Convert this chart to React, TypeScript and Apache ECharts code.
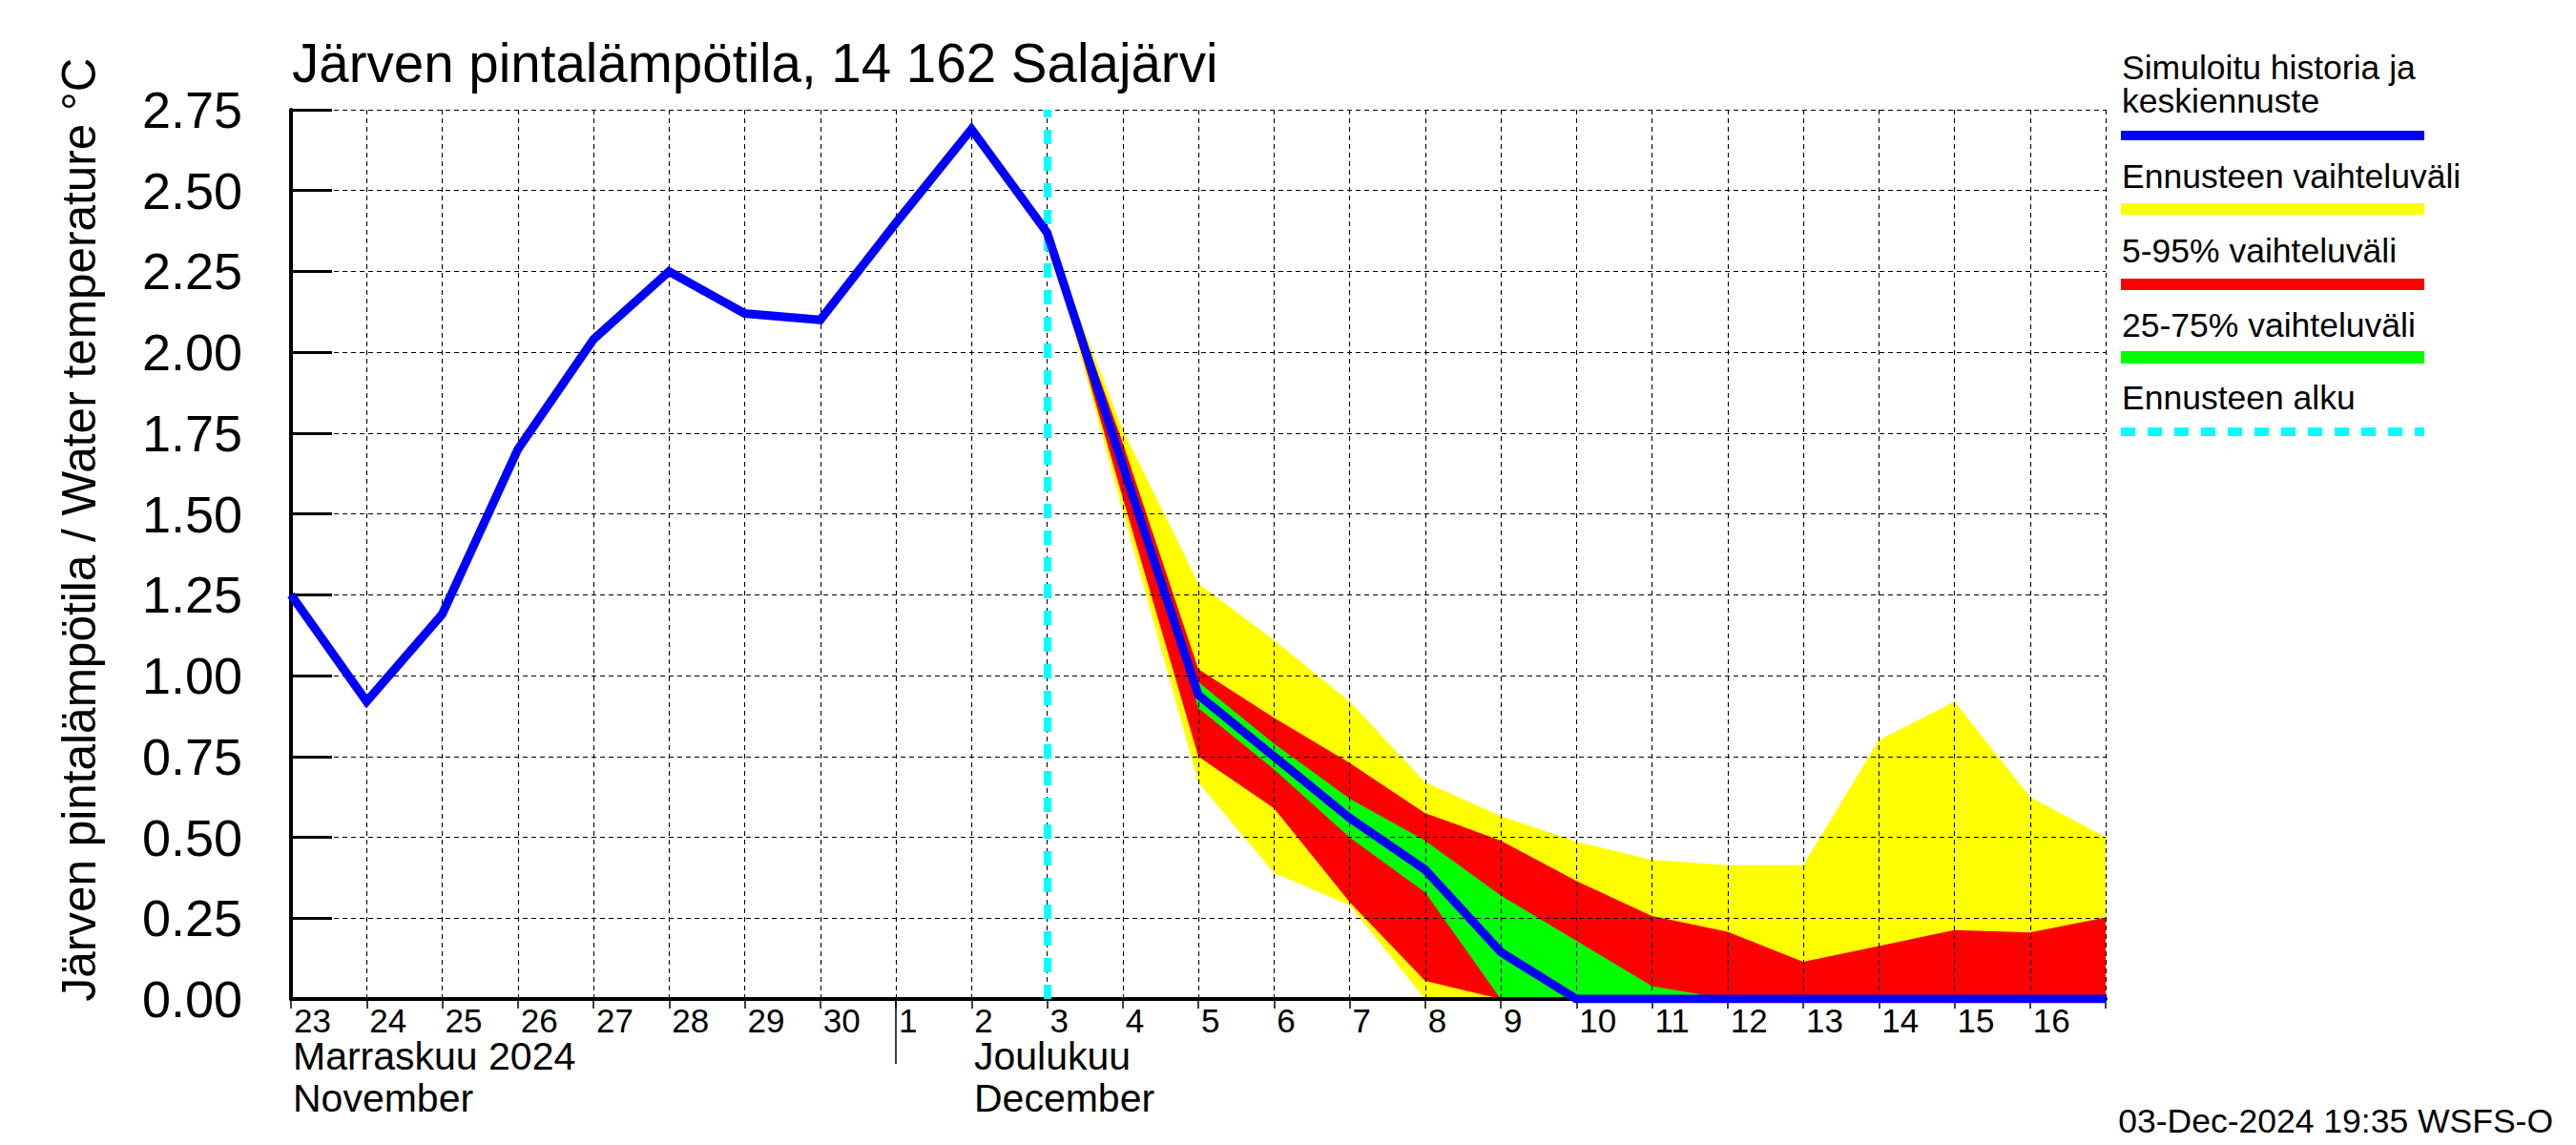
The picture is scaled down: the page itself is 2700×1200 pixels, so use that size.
import React, { useEffect, useRef } from "react";
import * as echarts from "echarts";

// ---- data ----
const dates = [
  "2024-11-23", "2024-11-24", "2024-11-25", "2024-11-26", "2024-11-27",
  "2024-11-28", "2024-11-29", "2024-11-30", "2024-12-01", "2024-12-02",
  "2024-12-03", "2024-12-04", "2024-12-05", "2024-12-06", "2024-12-07",
  "2024-12-08", "2024-12-09", "2024-12-10", "2024-12-11", "2024-12-12",
  "2024-12-13", "2024-12-14", "2024-12-15", "2024-12-16", "2024-12-17",
];
const forecastStart = "2024-12-03";
const monthStart = "2024-12-01";

// simulated history (Nov 23 .. Dec 3)
const historyTemp = [1.25, 0.92, 1.19, 1.7, 2.04, 2.25, 2.12, 2.1, 2.4, 2.69, 2.37];
// forecast (Dec 3 .. Dec 17)
const forecastMean = [2.37, 1.65, 0.94, 0.75, 0.56, 0.4, 0.145, 0, 0, 0, 0, 0, 0, 0, 0];
const rangeMin = [2.37, 1.51, 0.67, 0.39, 0.29, 0, 0, 0, 0, 0, 0, 0, 0, 0, 0];
const rangeMax = [2.37, 1.76, 1.285, 1.11, 0.92, 0.67, 0.566, 0.487, 0.43, 0.414, 0.414, 0.8, 0.92, 0.625, 0.5];
const p05 = [2.37, 1.55, 0.75, 0.59, 0.3, 0.056, 0, 0, 0, 0, 0, 0, 0, 0, 0];
const p95 = [2.37, 1.72, 1.02, 0.87, 0.73, 0.575, 0.49, 0.365, 0.257, 0.208, 0.115, 0.164, 0.213, 0.206, 0.252];
const p25 = [2.37, 1.63, 0.9, 0.71, 0.5, 0.33, 0, 0, 0, 0, 0, 0, 0, 0, 0];
const p75 = [2.37, 1.69, 0.98, 0.79, 0.62, 0.49, 0.32, 0.18, 0.04, 0, 0, 0, 0, 0, 0];

const yTicks = { min: 0, max: 2.75, step: 0.25 };

const titleText = "Järven pintalämpötila, 14 162 Salajärvi";
const yName = "Järven pintalämpötila / Water temperature °C";
const legendItems = [
  { lines: ["Simuloitu historia ja", "keskiennuste"], color: "#0000ff" },
  { lines: ["Ennusteen vaihteluväli"], color: "#ffff00" },
  { lines: ["5-95% vaihteluväli"], color: "#ff0000" },
  { lines: ["25-75% vaihteluväli"], color: "#00ff00" },
  { lines: ["Ennusteen alku"], color: "#00ffff", dashed: true },
];
const monthLabels = [
  { date: "2024-11-23", lines: ["Marraskuu 2024", "November"] },
  { date: "2024-12-02", lines: ["Joulukuu", "December"] },
];
const footer = "03-Dec-2024 19:35 WSFS-O";

const FONT = '"Liberation Sans", Arial, Helvetica, sans-serif';

export default function App() {
  const ref = useRef<HTMLDivElement>(null);

  useEffect(() => {
    document.body.style.margin = "0";
    const chart = echarts.init(ref.current!, undefined, { renderer: "svg" });

    const fIdx = dates.indexOf(forecastStart);
    const pad = (arr: number[]) =>
      (new Array(fIdx).fill(null) as (number | null)[]).concat(arr);
    const meanAll = (historyTemp as (number | null)[]).concat(forecastMean.slice(1));

    const band = (name: string, lower: number[], upper: number[], color: string) => [
      {
        type: "line",
        name: name + "_base",
        stack: name,
        data: pad(lower),
        symbol: "none",
        lineStyle: { width: 0, opacity: 0 },
        silent: true,
        z: 2,
      },
      {
        type: "line",
        name,
        stack: name,
        data: pad(upper.map((u, i) => Math.max(0, u - lower[i]))),
        symbol: "none",
        lineStyle: { width: 0, opacity: 0 },
        areaStyle: { color, opacity: 1 },
        silent: true,
        z: 2,
      },
    ];

    const gridDash = { color: "#000", width: 1.1, type: [5, 4] as any };

    // legend graphic
    const legend: any[] = [];
    const legendX = 2224;
    const legendLayout = [
      { textY: [71, 106], barY: 137, barH: 10 },
      { textY: [184.5], barY: 213, barH: 12 },
      { textY: [262.5], barY: 292, barH: 12 },
      { textY: [340.5], barY: 368, barH: 13 },
      { textY: [416.5], barY: 448, barH: 9 },
    ];
    legendItems.forEach((it, k) => {
      const L = legendLayout[k];
      it.lines.forEach((t, j) => {
        legend.push({
          type: "text",
          x: legendX,
          y: L.textY[j],
          style: { text: t, fontSize: 35.5, lineHeight: 34, fontFamily: FONT, fill: "#000", align: "left", verticalAlign: "middle" },
        });
      });
      if (it.dashed) {
        legend.push({
          type: "line",
          shape: { x1: legendX - 1, y1: L.barY + L.barH / 2, x2: legendX + 317, y2: L.barY + L.barH / 2 },
          style: { stroke: it.color, lineWidth: L.barH, lineDash: [15, 13] },
        });
      } else {
        legend.push({
          type: "rect",
          shape: { x: legendX - 1, y: L.barY, width: 318, height: L.barH },
          style: { fill: it.color },
        });
      }
    });

    const monthX: Record<string, number> = { "2024-11-23": 307, "2024-12-02": 1021 };
    const months: any[] = [];
    monthLabels.forEach((m) => {
      m.lines.forEach((t, j) => {
        months.push({
          type: "text",
          x: monthX[m.date],
          y: 1107 + j * 44,
          style: { text: t, fontSize: 41, lineHeight: 36, fontFamily: FONT, fill: "#000", align: "left", verticalAlign: "middle" },
        });
      });
    });

    const option: any = {
      animation: false,
      backgroundColor: "#fff",
      grid: { left: 305, top: 115, width: 1902, height: 932, containLabel: false },
      xAxis: [
        {
          type: "category",
          data: dates,
          boundaryGap: false,
          z: 3,
          axisLine: { show: true, lineStyle: { color: "#000", width: 4 } },
          axisTick: { show: true, interval: 0, length: 10, lineStyle: { color: "#000", width: 1.5 } },
          axisLabel: {
            interval: 0,
            align: "left",
            margin: 6,
            lineHeight: 32,
            padding: [0, 0, 0, 3],
            fontSize: 35,
            fontFamily: FONT,
            color: "#000",
            formatter: (v: string, i: number) => (i === dates.length - 1 ? "" : String(Number(v.slice(8)))),
          },
          splitLine: { show: true, interval: 0, lineStyle: gridDash },
        },
        {
          type: "category",
          data: dates,
          boundaryGap: false,
          position: "bottom",
          z: 3,
          axisLine: { show: false },
          axisLabel: { show: false },
          splitLine: { show: false },
          axisTick: {
            show: true,
            interval: (i: number) => i === dates.indexOf(monthStart),
            length: 68,
            lineStyle: { color: "#000", width: 1.5 },
          },
        },
      ],
      yAxis: {
        type: "value",
        min: yTicks.min,
        max: yTicks.max,
        interval: yTicks.step,
        z: 3,
        axisLine: { show: true, lineStyle: { color: "#000", width: 4 } },
        axisTick: { show: true, inside: true, length: 43, lineStyle: { color: "#000", width: 3 } },
        axisLabel: {
          fontSize: 54,
          fontFamily: FONT,
          color: "#000",
          margin: 51,
          padding: [0, 0, 16, 0],
          formatter: (v: number) => v.toFixed(2),
        },
        splitLine: { show: true, lineStyle: gridDash },
      },
      series: [
        ...band("Ennusteen vaihteluväli", rangeMin, rangeMax, "#ffff00"),
        ...band("5-95% vaihteluväli", p05, p95, "#ff0000"),
        ...band("25-75% vaihteluväli", p25, p75, "#00ff00"),
        {
          type: "line",
          name: "Ennusteen alku",
          data: new Array(dates.length).fill(null),
          symbol: "none",
          z: 4,
          markLine: {
            silent: true,
            symbol: "none",
            label: { show: false },
            lineStyle: { color: "#00ffff", width: 8, type: [15, 13] },
            data: [{ xAxis: forecastStart }],
          },
        },
        {
          type: "line",
          name: "Simuloitu historia ja keskiennuste",
          data: meanAll,
          symbol: "none",
          z: 5,
          lineStyle: { color: "#0000ff", width: 9, join: "miter", cap: "butt" },
        },
      ],
      graphic: [
        {
          type: "text",
          x: 306,
          y: 66,
          style: { text: titleText, fontSize: 56.5, fontFamily: FONT, fill: "#000", align: "left", verticalAlign: "middle" },
        },
        {
          type: "text",
          x: 82,
          y: 555,
          rotation: Math.PI / 2,
          style: { text: yName, fontSize: 49.5, fontFamily: FONT, fill: "#000", align: "center", verticalAlign: "middle" },
        },
        ...months,
        ...legend,
        {
          type: "text",
          x: 2676,
          y: 1175,
          style: { text: footer, fontSize: 35.5, fontFamily: FONT, fill: "#000", align: "right", verticalAlign: "middle" },
        },
      ],
    };

    chart.setOption(option);
    return () => chart.dispose();
  }, []);

  return <div ref={ref} style={{ width: 2700, height: 1200 }} />;
}
